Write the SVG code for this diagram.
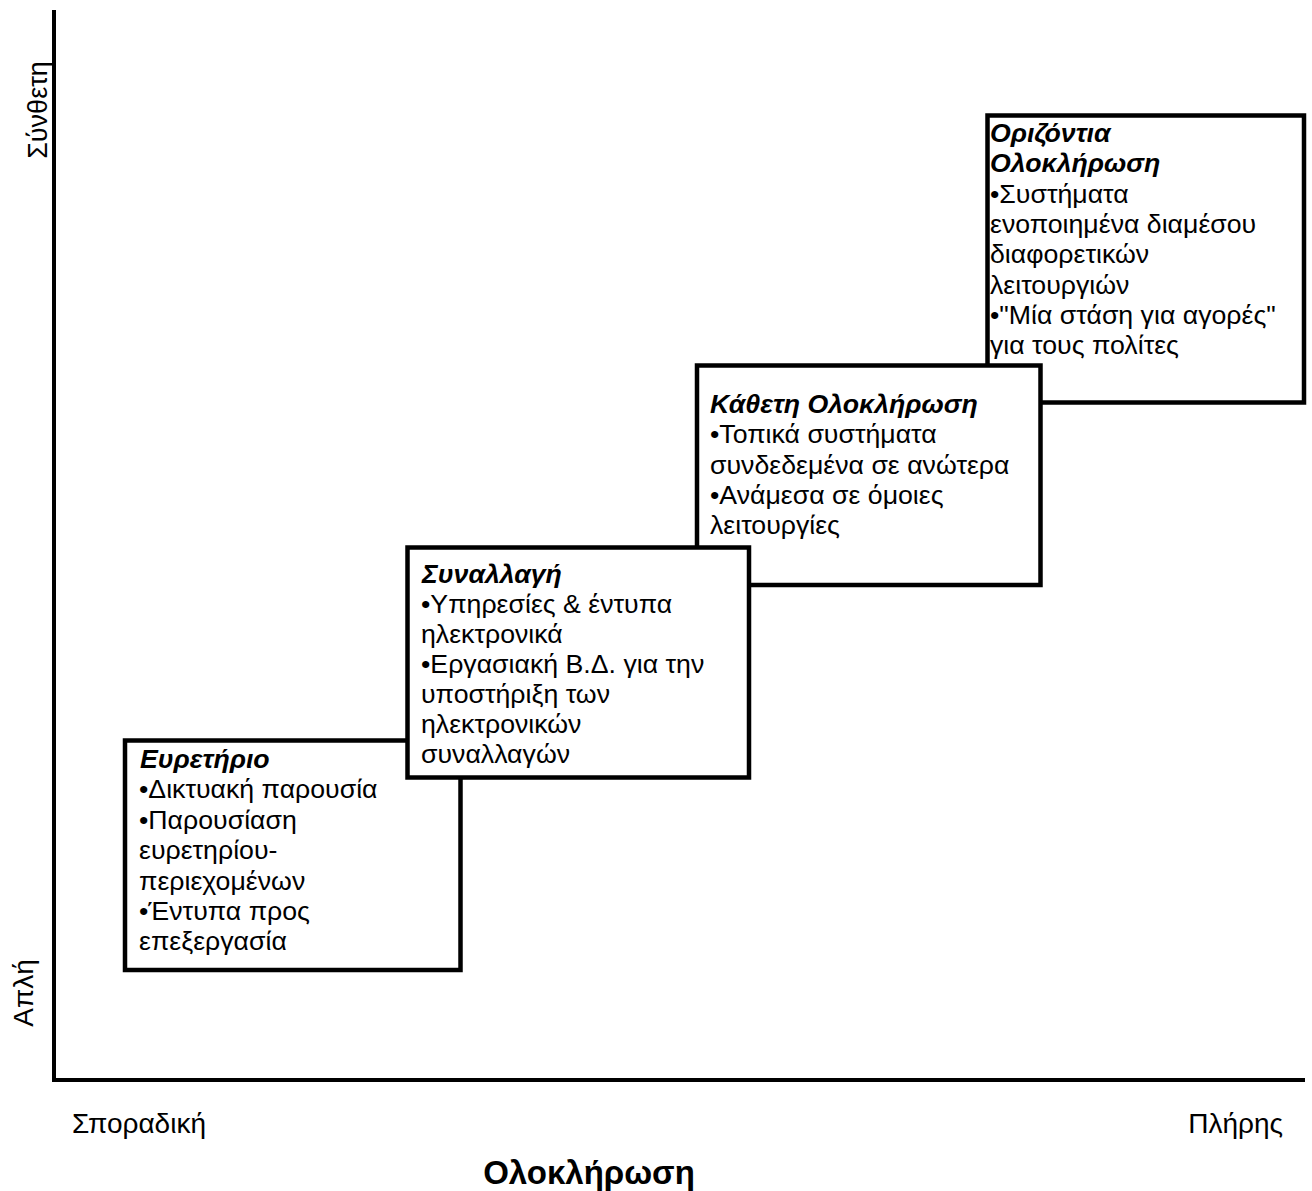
<svg xmlns="http://www.w3.org/2000/svg" width="1312" height="1191" viewBox="0 0 1312 1191">
<style>
.box{fill:#fff;stroke:#000;stroke-width:4.5}
.t{font-family:"Liberation Sans",Arial,sans-serif;font-size:26.7px;fill:#000}
.h{font-weight:bold;font-style:italic}
.ax{font-family:"Liberation Sans",Arial,sans-serif;font-size:28px;fill:#000}
.axis{stroke:#000;stroke-width:4;fill:none}
</style>
<rect width="1312" height="1191" fill="#fff"/>
<g id="axes">
<path class="axis" d="M54,10 V1080 H1305"/>
</g>
<text class="ax" x="0" y="0" transform="translate(47,110) rotate(-90)" text-anchor="middle" style="font-size:27px">Σύνθετη</text>
<text class="ax" x="0" y="0" transform="translate(33,993) rotate(-90)" text-anchor="middle">Απλή</text>
<text class="ax" x="72" y="1133">Σποραδική</text>
<text class="ax" x="1283" y="1133" text-anchor="end">Πλήρης</text>
<text class="ax" x="589" y="1184" text-anchor="middle" style="font-weight:bold;font-size:33px">Ολοκλήρωση</text>
<g id="node-horizontal">
<rect class="box" x="987.5" y="115.5" width="316.5" height="287"/>
<text class="t" x="990" y="142"><tspan class="h">Οριζόντια</tspan><tspan x="990" dy="30.3" class="h">Ολοκλήρωση</tspan><tspan x="990" dy="30.3">•Συστήματα</tspan><tspan x="990" dy="30.3">ενοποιημένα διαμέσου</tspan><tspan x="990" dy="30.3">διαφορετικών</tspan><tspan x="990" dy="30.3">λειτουργιών</tspan><tspan x="990" dy="30.3">•"Μία στάση για αγορές"</tspan><tspan x="990" dy="30.3">για τους πολίτες</tspan></text>
</g>
<g id="node-vertical">
<rect class="box" x="697" y="365.5" width="343.5" height="219.5"/>
<text class="t" x="710" y="413"><tspan class="h">Κάθετη Ολοκλήρωση</tspan><tspan x="710" dy="30.3">•Τοπικά συστήματα</tspan><tspan x="710" dy="30.3">συνδεδεμένα σε ανώτερα</tspan><tspan x="710" dy="30.3">•Ανάμεσα σε όμοιες</tspan><tspan x="710" dy="30.3">λειτουργίες</tspan></text>
</g>
<g id="node-index">
<rect class="box" x="125" y="740.5" width="335.5" height="229.5"/>
<text class="t" x="140" y="768"><tspan class="h">Ευρετήριο</tspan><tspan x="139" dy="30.4">•Δικτυακή παρουσία</tspan><tspan x="139" dy="30.4">•Παρουσίαση</tspan><tspan x="139" dy="30.4">ευρετηρίου-</tspan><tspan x="139" dy="30.4">περιεχομένων</tspan><tspan x="139" dy="30.4">•Έντυπα προς</tspan><tspan x="139" dy="30.4">επεξεργασία</tspan></text>
</g>
<g id="node-transaction">
<rect class="box" x="407.5" y="547.5" width="341.5" height="230"/>
<text class="t" x="422" y="583"><tspan class="h">Συναλλαγή</tspan><tspan x="421" dy="30">•Υπηρεσίες &amp; έντυπα</tspan><tspan x="421" dy="30">ηλεκτρονικά</tspan><tspan x="421" dy="30">•Εργασιακή Β.Δ. για την</tspan><tspan x="421" dy="30">υποστήριξη των</tspan><tspan x="421" dy="30">ηλεκτρονικών</tspan><tspan x="421" dy="30">συναλλαγών</tspan></text>
</g>
<g id="connectors"></g>
</svg>
